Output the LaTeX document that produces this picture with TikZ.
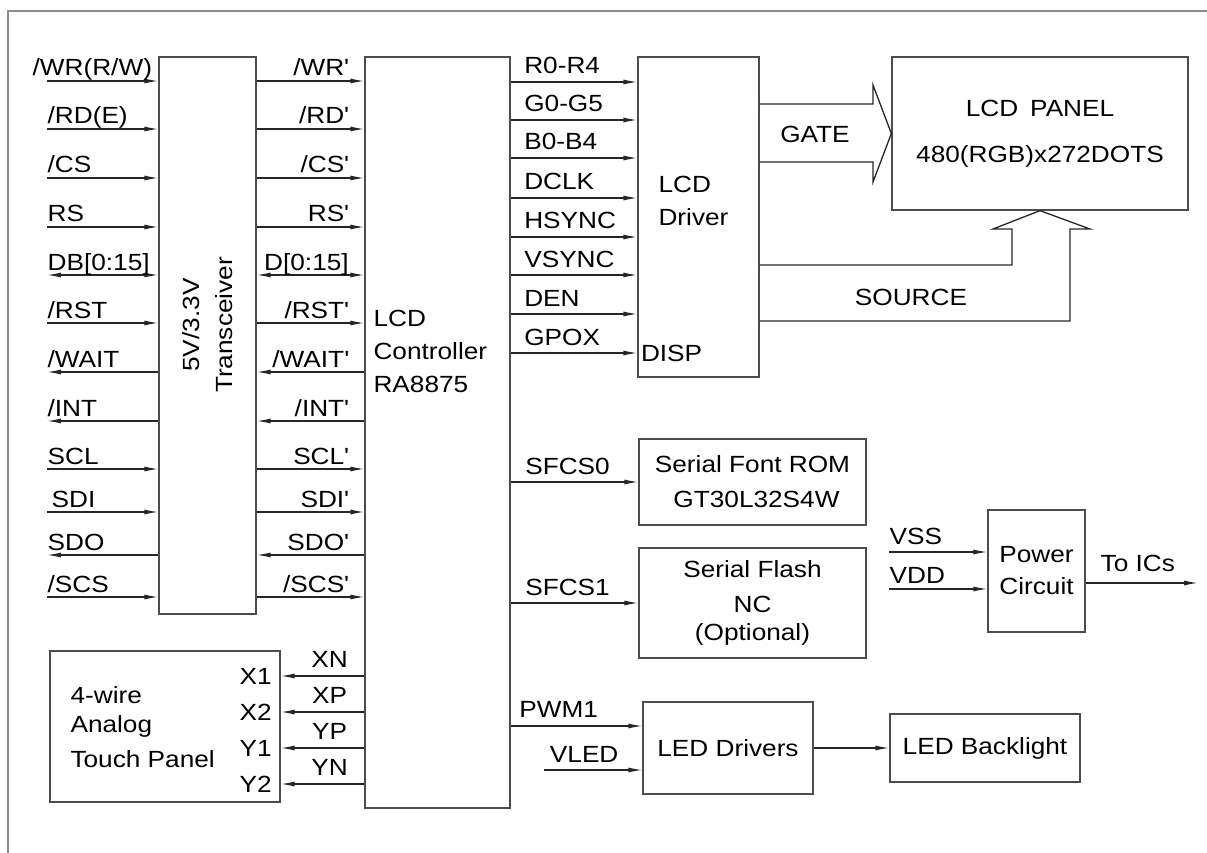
\documentclass[tikz,border=0pt]{standalone}
\usepackage{fontspec}
\setmainfont[FakeStretch=1.12]{Liberation Sans}
\usetikzlibrary{arrows.meta}
\newcommand{\prm}{\textquotesingle}

\begin{document}
\begin{tikzpicture}[x=1pt,y=-1pt,
  >={Latex[length=14pt,width=5pt]},
  font=\fontsize{23.4}{28}\selectfont,
  box/.style={draw=black!70,line width=1.3pt,inner sep=0pt,align=center},
  wire/.style={draw=black!85,line width=1.3pt},
  lbl/.style={anchor=base west,inner sep=0pt,yshift=5pt},
  rlbl/.style={anchor=base east,inner sep=0pt,yshift=5pt},
  olbl/.style={anchor=base west,inner sep=0pt,yshift=8pt},
  clbl/.style={anchor=base,inner sep=0pt,yshift=8pt}]
\useasboundingbox (0,0) rectangle (1207,853);
\draw[black!45,line width=2pt] (8,853) -- (8,11) -- (1207,11);

% blocks
\node[box,minimum width=97pt,minimum height=557pt] (trx) at (207.5,335.5) {};
\node[rotate=90,align=center] (trxtxt) at (208,325) {5V/3.3V\\[5pt]Transceiver};
\node[box,minimum width=145pt,minimum height=751pt] (ctrl) at (437.5,432.5) {};
\node[anchor=west,align=left] (ctrltxt) at (370,351) {LCD\\[5pt]Controller\\[5pt]RA8875};
\node[box,minimum width=121pt,minimum height=320pt] (drv) at (698.5,217) {};
\node[anchor=west,align=left] (drvtxt) at (655,201) {LCD\\[5pt]Driver};
\node[box,minimum width=296pt,minimum height=153pt] (panel) at (1040,133.5) {LCD\hspace{12pt}PANEL\\[18pt]480(RGB)x272DOTS};
\node[box,minimum width=227pt,minimum height=86pt] (rom) at (752.5,482) {Serial Font ROM\\[7pt]\hspace{8pt}GT30L32S4W};
\node[box,minimum width=227pt,minimum height=110pt] (flash) at (752.5,603) {Serial Flash\\[7pt]NC\\(Optional)};
\node[box,minimum width=97pt,minimum height=122pt] (pwr) at (1036.5,571) {Power\\[4pt]Circuit};
\node[box,minimum width=170pt,minimum height=92pt] (led) at (728,748) {LED Drivers};
\node[box,minimum width=190pt,minimum height=68pt] (blt) at (985,748) {LED Backlight};
\node[box,minimum width=230pt,minimum height=151pt] (touch) at (165,726.5) {};
\node[anchor=west,align=left] (touchtxt) at (67,727) {4-wire\\[1pt]Analog\\[7pt]Touch Panel};
\node[anchor=east,inner sep=0pt] (x1) at (272,676) {X1};
\node[anchor=east,inner sep=0pt] (x2) at (272,712) {X2};
\node[anchor=east,inner sep=0pt] (y1) at (272,748) {Y1};
\node[anchor=east,inner sep=0pt] (y2) at (272,784) {Y2};

% host side
\coordinate (wr) at (47,81);
\coordinate (rd) at (47,129);
\coordinate (cs) at (47,178);
\coordinate (rs) at (47,227);
\coordinate (db) at (47,275);
\coordinate (rst) at (47,323);
\coordinate (wait) at (47,372);
\coordinate (int) at (47,421);
\coordinate (scl) at (47,469);
\coordinate (sdi) at (47,512);
\coordinate (sdo) at (47,555);
\coordinate (scs) at (47,597);
\draw[wire,->] (wr) -- node[lbl,pos=0,xshift=-15pt] {/WR(R/W)} (wr -| trx.west);
\draw[wire,->] (rd) -- node[lbl,pos=0] {/RD(E)} (rd -| trx.west);
\draw[wire,->] (cs) -- node[lbl,pos=0] {/CS} (cs -| trx.west);
\draw[wire,->] (rs) -- node[lbl,pos=0] {RS} (rs -| trx.west);
\draw[wire,<->] (db) -- node[lbl,pos=0] {DB[0:15]} (db -| trx.west);
\draw[wire,->] (rst) -- node[lbl,pos=0] {/RST} (rst -| trx.west);
\draw[wire,<-] (wait) -- node[lbl,pos=0] {/WAIT} (wait -| trx.west);
\draw[wire,<-] (int) -- node[lbl,pos=0] {/INT} (int -| trx.west);
\draw[wire,->] (scl) -- node[lbl,pos=0] {SCL} (scl -| trx.west);
\draw[wire,->] (sdi) -- node[lbl,pos=0,xshift=4pt] {SDI} (sdi -| trx.west);
\draw[wire,<-] (sdo) -- node[lbl,pos=0] {SDO} (sdo -| trx.west);
\draw[wire,->] (scs) -- node[lbl,pos=0] {/SCS} (scs -| trx.west);

% transceiver to controller
\draw[wire,->] (wr -| trx.east) -- node[rlbl,pos=1,xshift=-15pt] {/WR\prm} (wr -| ctrl.west);
\draw[wire,->] (rd -| trx.east) -- node[rlbl,pos=1,xshift=-15pt] {/RD\prm} (rd -| ctrl.west);
\draw[wire,->] (cs -| trx.east) -- node[rlbl,pos=1,xshift=-15pt] {/CS\prm} (cs -| ctrl.west);
\draw[wire,->] (rs -| trx.east) -- node[rlbl,pos=1,xshift=-15pt] {RS\prm} (rs -| ctrl.west);
\draw[wire,<->] (db -| trx.east) -- node[rlbl,pos=1,xshift=-15pt] {D[0:15]} (db -| ctrl.west);
\draw[wire,->] (rst -| trx.east) -- node[rlbl,pos=1,xshift=-15pt] {/RST\prm} (rst -| ctrl.west);
\draw[wire,<-] (wait -| trx.east) -- node[rlbl,pos=1,xshift=-15pt] {/WAIT\prm} (wait -| ctrl.west);
\draw[wire,<-] (int -| trx.east) -- node[rlbl,pos=1,xshift=-15pt] {/INT\prm} (int -| ctrl.west);
\draw[wire,->] (scl -| trx.east) -- node[rlbl,pos=1,xshift=-15pt] {SCL\prm} (scl -| ctrl.west);
\draw[wire,->] (sdi -| trx.east) -- node[rlbl,pos=1,xshift=-15pt] {SDI\prm} (sdi -| ctrl.west);
\draw[wire,<-] (sdo -| trx.east) -- node[rlbl,pos=1,xshift=-15pt] {SDO\prm} (sdo -| ctrl.west);
\draw[wire,->] (scs -| trx.east) -- node[rlbl,pos=1,xshift=-15pt] {/SCS\prm} (scs -| ctrl.west);

% RGB bus to the driver
\coordinate (rr) at (0,82);
\coordinate (gg) at (0,120);
\coordinate (bb) at (0,158);
\coordinate (dclk) at (0,198);
\coordinate (hs) at (0,237);
\coordinate (vs) at (0,275);
\coordinate (den) at (0,314);
\coordinate (gpo) at (0,353);
\draw[wire,->] (rr -| ctrl.east) -- node[olbl,pos=0,xshift=13pt] {R0-R4} (rr -| drv.west);
\draw[wire,->] (gg -| ctrl.east) -- node[olbl,pos=0,xshift=13pt] {G0-G5} (gg -| drv.west);
\draw[wire,->] (bb -| ctrl.east) -- node[olbl,pos=0,xshift=13pt] {B0-B4} (bb -| drv.west);
\draw[wire,->] (dclk -| ctrl.east) -- node[olbl,pos=0,xshift=13pt] {DCLK} (dclk -| drv.west);
\draw[wire,->] (hs -| ctrl.east) -- node[olbl,pos=0,xshift=13pt] {HSYNC} (hs -| drv.west);
\draw[wire,->] (vs -| ctrl.east) -- node[olbl,pos=0,xshift=13pt] {VSYNC} (vs -| drv.west);
\draw[wire,->] (den -| ctrl.east) -- node[olbl,pos=0,xshift=13pt] {DEN} (den -| drv.west);
\draw[wire,->] (gpo -| ctrl.east) -- node[olbl,pos=0,xshift=13pt] {GPOX}
  (gpo -| drv.west) node[anchor=west,inner sep=0pt,xshift=3pt] (disp) {DISP};

% gate and source buses
\draw[wire] (drv.east |- 0,104) -- (873,104) -- (873,85) -- (panel.west) -- (873,182)
  -- (873,162) -- (drv.east |- 0,162);
\node (gate) at (815,134) {GATE};
\draw[wire] (drv.east |- 0,265) -- (1012,265) -- (1012,229) -- (993,229) -- (panel.south)
  -- (1090,229) -- (1070,229) -- (1070,321) -- (drv.east |- 0,321);
\node (source) at (911,297) {SOURCE};

% serial memories
\coordinate (sf0) at (0,482);
\coordinate (sf1) at (0,603);
\draw[wire,->] (sf0 -| ctrl.east) -- node[olbl,pos=0,xshift=14pt] {SFCS0} (sf0 -| rom.west);
\draw[wire,->] (sf1 -| ctrl.east) -- node[olbl,pos=0,xshift=14pt] {SFCS1} (sf1 -| flash.west);

% power
\coordinate (vss) at (889,552);
\coordinate (vdd) at (889,589);
\coordinate (toic) at (1198,583);
\draw[wire,->] (vss) -- node[olbl,pos=0] {VSS} (vss -| pwr.west);
\draw[wire,->] (vdd) -- node[olbl,pos=0,yshift=-2pt] {VDD} (vdd -| pwr.west);
\draw[wire,->] (toic -| pwr.east) -- node[clbl,xshift=-4pt,yshift=4pt] {To ICs} (toic);

% backlight
\coordinate (pwm) at (0,726);
\coordinate (vled) at (544,770);
\draw[wire,->] (pwm -| ctrl.east) -- node[olbl,pos=0,xshift=8pt,yshift=1pt] {PWM1} (pwm -| led.west);
\draw[wire,->] (vled) -- node[clbl,xshift=-9pt] {VLED} (vled -| led.west);
\draw[wire,->] (led.east) -- (blt.west);

% touch panel
\coordinate (xn) at (0,676);
\coordinate (xp) at (0,712);
\coordinate (yp) at (0,748);
\coordinate (yn) at (0,784);
\draw[wire,->] (xn -| ctrl.west) -- node[clbl,xshift=7pt,yshift=1pt] {XN} (xn -| touch.east);
\draw[wire,->] (xp -| ctrl.west) -- node[clbl,xshift=7pt,yshift=1pt] {XP} (xp -| touch.east);
\draw[wire,->] (yp -| ctrl.west) -- node[clbl,xshift=7pt,yshift=1pt] {YP} (yp -| touch.east);
\draw[wire,->] (yn -| ctrl.west) -- node[clbl,xshift=7pt,yshift=1pt] {YN} (yn -| touch.east);
\end{tikzpicture}
\end{document}
